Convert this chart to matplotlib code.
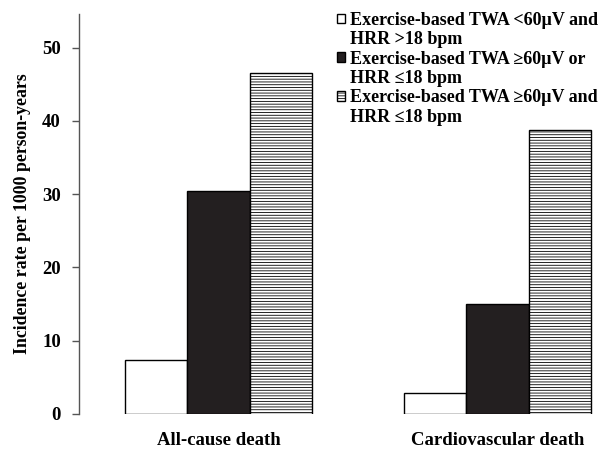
import numpy as np
import matplotlib.pyplot as plt
from matplotlib.patches import Patch

plt.rcParams['font.family'] = ['Liberation Serif', 'DejaVu Serif']
plt.rcParams['font.weight'] = 'bold'
plt.rcParams['hatch.linewidth'] = 0.6

categories = ["All-cause death", "Cardiovascular death"]
series_labels = [
    ("Exercise-based TWA <60\u00b5V and", "HRR >18 bpm"),
    ("Exercise-based TWA \u226560\u00b5V or", "HRR \u226418 bpm"),
    ("Exercise-based TWA \u226560\u00b5V and", "HRR \u226418 bpm"),
]
low_risk = [7.4, 2.8]
one_abnormal = [30.4, 15.0]
both_abnormal = [46.5, 38.7]
yticks = [0, 10, 20, 30, 40, 50]

fig = plt.figure(figsize=(6.07, 4.51), dpi=100)
ax = fig.add_axes([79 / 607, 37 / 451, 521 / 607, 400 / 451])

x = np.arange(len(categories))
w = 0.224
styles = [
    dict(color="white", edgecolor="black", hatch=None),
    dict(color="#231f20", edgecolor="black", hatch=None),
    dict(color="white", edgecolor="black", hatch="------"),
]
bars = []
for i, vals in enumerate([low_risk, one_abnormal, both_abnormal]):
    b = ax.bar(x + (i - 1) * w, vals, w, linewidth=1.0, **styles[i])
    bars.append(b)

ax.set_xlim(-0.5, 1.367)
ax.set_ylim(0, 54.6)
ax.set_yticks(yticks)
ax.set_xticks(x)
ax.set_xticklabels(categories, fontsize=13.5, fontweight="bold")
ax.tick_params(axis="x", length=0, pad=13)
ax.tick_params(axis="y", direction="out", length=5, width=1, pad=8,
               labelsize=13.5, color="#555555")
for t in ax.get_yticklabels():
    t.set_fontweight("bold")
for s in ["top", "right", "bottom"]:
    ax.spines[s].set_visible(False)
ax.spines["left"].set_color("#555555")
ax.spines["left"].set_linewidth(1.0)
ax.set_ylabel("Incidence rate per 1000 person-years", fontsize=12.8,
              fontweight="bold", labelpad=8)

handles = []
labels = []
blank = Patch(facecolor="none", edgecolor="none")
for b, (l1, l2) in zip(bars, series_labels):
    handles += [b[0], blank]
    labels += [l1, l2]
leg = fig.legend(handles, labels, loc="upper left",
                 bbox_to_anchor=(337 / 607, 1 - 12 / 451), frameon=False,
                 borderpad=0, borderaxespad=0, handlelength=0.45,
                 handleheight=0.45, handletextpad=0.25, labelspacing=0.13,
                 prop=dict(family="Liberation Serif", weight="bold", size=13.0))

fig.savefig("out.png", dpi=100)
